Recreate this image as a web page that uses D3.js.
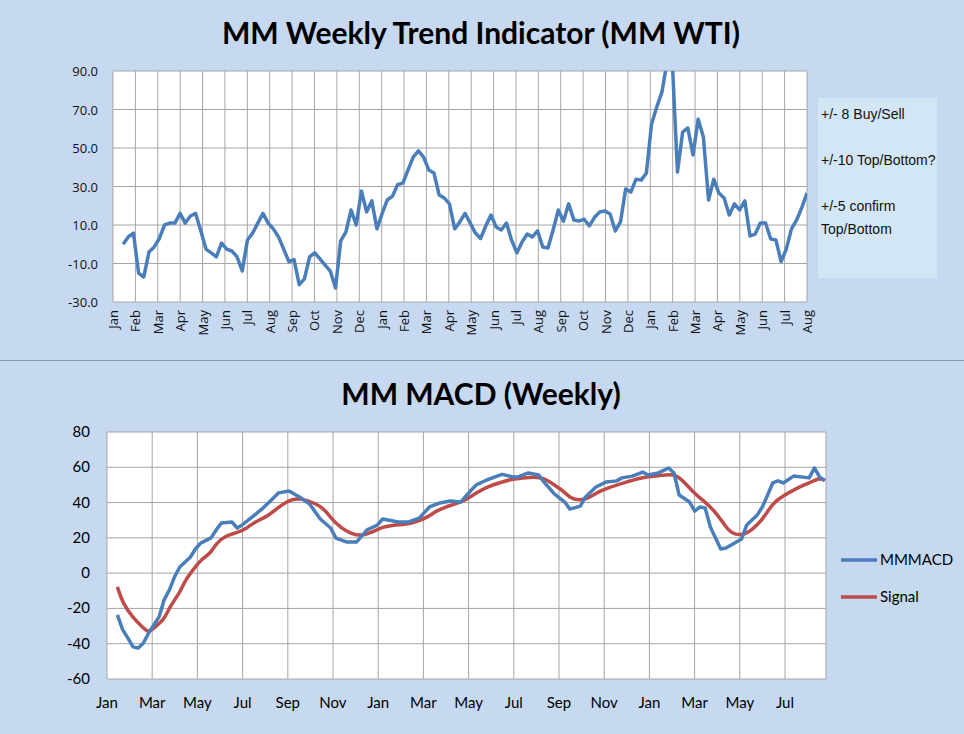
<!DOCTYPE html>
<html><head><meta charset="utf-8">
<script src="https://cdn.jsdelivr.net/npm/d3@7"></script>
<style>body{margin:0;background:#c6d9f1}svg{display:block}</style></head>
<body><svg id="c" width="964" height="734"></svg>
<script>
const monthsTop = ["Jan","Feb","Mar","Apr","May","Jun","Jul","Aug","Sep","Oct","Nov","Dec","Jan","Feb","Mar","Apr","May","Jun","Jul","Aug","Sep","Oct","Nov","Dec","Jan","Feb","Mar","Apr","May","Jun","Jul","Aug"];
const yTicksTop = [-30,-10,10,30,50,70,90];
const wti = [0,3.8,5.8,-15,-17,-4,-1.4,3,10,11,
11,16,11,14.7,16,7,-2.5,-4.5,-6.6,0.6,
-2.5,-3.5,-6.6,-13.9,2.2,5.8,11,16,11,8,
3.8,-2.5,-9,-8,-21,-18,-6.6,-4.5,-7.6,-10.8,
-14,-22.7,1.7,6.3,17.8,10,27.7,16.8,22.5,8,
16,23,25,31,31.8,38.6,45.3,48.5,45.3,38.6,
37,25.6,24,21,8,11.6,16,11,5.8,3,
9.5,15.2,9,7.4,11,2,-4.5,1.2,5.3,3.8,
6.9,-1.4,-2,7.4,17.8,12,21,12.6,12,13,
9.5,14,16.8,17.3,15.7,6.9,11.6,28.7,27.1,33.8,
33.3,37,62.5,71.3,79,95,95,37.5,58.3,60.4,
46.4,65,55.7,23,33.8,26.6,24,15.2,21,17.8,
22.5,4.3,5.3,11,11,2.7,2.2,-9,-2.5,8,
12.6,19,26.6];
const noteLines = ["+/- 8 Buy/Sell","+/-10 Top/Bottom?","+/-5 confirm","Top/Bottom"];

const monthsBottom = ["Jan","Mar","May","Jul","Sep","Nov","Jan","Mar","May","Jul","Sep","Nov","Jan","Mar","May","Jul"];
const yTicksBottom = [-60,-40,-20,0,20,40,60,80];
const macdWeeks = [2,3,4,5,6,7,8,10,11,12,13,14,16,17,18,20,21,22,24,25,26,28,30,32,33,35,37,39,41,43,44,46,48,50,52,53,54,56,58,60,61,62,64,66,68,70,71,73,75,76,78,79,81,83,84,86,88,89,91,92,94,96,98,99,101,103,104,106,108,109,110,112,113,114,115,116,118,119,121,122,123,125,126,128,129,130,132,135,136,137,138];
const macdVals = [-23.7,-32,-36.7,-41.8,-42.5,-39.6,-34,-24.8,-15,-9.5,-2,3.5,9,13.7,17,20,24.5,28.4,29,25.6,27.3,32,36.9,42.6,45.5,46.6,43.2,39,30.7,25.6,19.9,17.7,17.7,24.5,27.3,30.7,30.1,29,29,31.2,34.3,37.5,39.8,40.9,40.3,47,50,52.8,55,56,54.5,54.5,56.8,55.6,51.7,44.9,40.3,36.3,38,43.2,48.8,51.7,52.3,54,55,57.3,55.6,56.8,59.6,56.8,44.3,40.3,35.2,37.5,36.9,26.2,13.7,14.3,17.7,19.4,27.3,32.9,37.5,51.1,52.3,51.1,55,54,59.6,54.5,52.3];
const sigWeeks = [2,3,5,7,8,9,11,12,14,15,17,18,20,21,23,25,27,28,31,33,35,37,40,42,43,45,47,49,51,53,55,58,60,62,63,65,67,69,71,73,76,78,80,82,84,86,88,89,91,93,95,98,100,103,106,109,111,113,115,117,119,120,122,124,126,128,130,133,135,137,138];
const sigVals = [-7.8,-17,-25.4,-31,-33.9,-31,-26.5,-19.2,-11.3,-3.9,3.5,7.4,11.4,17,21.6,22.8,25.6,28.4,32.4,37.5,41.5,42.6,39.8,35.8,31.2,25.6,22.2,21.1,23.3,26.2,27.3,27.8,29.6,32.4,34.7,37.5,39.2,41.5,45.5,48.8,51.7,53.4,54,54.5,54,50,46,42.6,40.9,43.2,47,50,51.7,54.5,55,56.8,51.7,44.9,40.3,34.7,26.2,22.8,21.1,24.5,30.1,39.8,43.8,48.8,51.1,54,52.8];

const svg = d3.select("#c");
const FT = "Lato, 'Open Sans', sans-serif";
const gridC = "#a6a6a6";
svg.append("line").attr("x1",0).attr("x2",964).attr("y1",360.5).attr("y2",360.5).attr("stroke","#8a9bb0").attr("stroke-width",1);

// ---------- TOP ----------
const T = {l:113,r:807,t:71,b:302};
const xT = d3.scaleLinear().domain([0,31]).range([T.l,T.r]);
const yT = d3.scaleLinear().domain([-30,90]).range([T.b,T.t]);
svg.append("rect").attr("x",T.l).attr("y",T.t).attr("width",T.r-T.l).attr("height",T.b-T.t).attr("fill","#fff");
const gT = svg.append("g");
gT.selectAll(".hy").data(yTicksTop).join("line").attr("x1",T.l).attr("x2",T.r).attr("y1",d=>yT(d)).attr("y2",d=>yT(d)).attr("stroke",gridC);
gT.selectAll(".vx").data(d3.range(32)).join("line").attr("x1",d=>xT(d)).attr("x2",d=>xT(d)).attr("y1",T.t).attr("y2",T.b).attr("stroke",gridC);
gT.selectAll(".yl").data(yTicksTop).join("text").attr("x",T.l-15).attr("y",d=>yT(d)+5).attr("text-anchor","end").attr("font-family","'Open Sans',sans-serif").attr("font-size",13).attr("fill","#111").text(d=>d.toFixed(1));
gT.selectAll(".xl").data(monthsTop).join("text")
  .attr("transform",(d,i)=>`translate(${xT(i)+5},${T.b+8}) rotate(-90)`)
  .attr("text-anchor","end").attr("font-family","'Open Sans',sans-serif").attr("font-size",13).attr("fill","#111").text(d=>d);
svg.append("clipPath").attr("id","ct").append("rect").attr("x",T.l).attr("y",T.t).attr("width",T.r-T.l).attr("height",T.b-T.t);
const x0 = 0.45, step = (31-x0)/(wti.length-1);
svg.append("path").datum(wti).attr("clip-path","url(#ct)").attr("fill","none").attr("stroke","#4a7ebb").attr("stroke-width",3.5).attr("stroke-linejoin","round")
  .attr("d",d3.line().x((d,i)=>xT(x0+i*step)).y(d=>yT(d)));
svg.append("text").attr("x",481).attr("y",44).attr("text-anchor","middle").attr("font-family",FT).attr("font-weight","bold").attr("font-size",30).attr("fill","#000").text("MM Weekly Trend Indicator (MM WTI)");
svg.append("rect").attr("x",818).attr("y",98).attr("width",119).attr("height",180).attr("fill","#d3e6f6");
svg.selectAll(".note").data(noteLines).join("text").attr("x",821).attr("y",(d,i)=>[119,165,211,234][i])
  .attr("font-family","'Liberation Sans Narrow','Liberation Sans',sans-serif").attr("font-size",14).attr("fill","#111").text(d=>d);

// ---------- BOTTOM ----------
const B = {l:107,r:826,t:432,b:679};
const xB = d3.scaleLinear().domain([0,30]).range([B.l,785]);
const wk = w => w/4.345;
const yB = d3.scaleLinear().domain([-60,80]).range([B.b,B.t]);
svg.append("rect").attr("x",B.l).attr("y",B.t).attr("width",B.r-B.l).attr("height",B.b-B.t).attr("fill","#fff");
const gB = svg.append("g");
gB.selectAll(".hy").data(yTicksBottom).join("line").attr("x1",B.l).attr("x2",B.r).attr("y1",d=>yB(d)).attr("y2",d=>yB(d)).attr("stroke",gridC);
gB.selectAll(".vx").data(monthsBottom).join("line").attr("x1",(d,i)=>xB(i*2)).attr("x2",(d,i)=>xB(i*2)).attr("y1",B.t).attr("y2",B.b).attr("stroke",gridC);
gB.append("line").attr("x1",B.r).attr("x2",B.r).attr("y1",B.t).attr("y2",B.b).attr("stroke",gridC);
gB.selectAll(".yl").data(yTicksBottom).join("text").attr("x",B.l-17).attr("y",d=>yB(d)+5).attr("text-anchor","end").attr("font-family",FT).attr("font-size",15).attr("fill","#000").text(d=>d);
gB.selectAll(".xl").data(monthsBottom).join("text").attr("x",(d,i)=>xB(i*2)).attr("y",708).attr("text-anchor","middle").attr("font-family",FT).attr("font-size",15).attr("fill","#000").text(d=>d);
const sigData = sigWeeks.map((w,i)=>[w,sigVals[i]]);
const macdData = macdWeeks.map((w,i)=>[w,macdVals[i]]);
const lineB = d3.line().x(d=>xB(wk(d[0]))).y(d=>yB(d[1])).curve(d3.curveBasis);
svg.append("path").datum(sigData).attr("fill","none").attr("stroke","#be4b48").attr("stroke-width",3.5).attr("d",lineB);
svg.append("path").datum(macdData).attr("fill","none").attr("stroke","#4a7ebb").attr("stroke-width",3.5).attr("stroke-linejoin","round").attr("d",d3.line().x(d=>xB(wk(d[0]))).y(d=>yB(d[1])));
svg.append("text").attr("x",481).attr("y",405).attr("text-anchor","middle").attr("font-family",FT).attr("font-weight","bold").attr("font-size",30).attr("fill","#000").text("MM MACD (Weekly)");
const leg = [["MMMACD","#4a7ebb",560],["Signal","#be4b48",597]];
leg.forEach(([t,c,y])=>{
  svg.append("line").attr("x1",841).attr("x2",877).attr("y1",y).attr("y2",y).attr("stroke",c).attr("stroke-width",3.5);
  svg.append("text").attr("x",880).attr("y",y+5).attr("font-family",FT).attr("font-size",15).attr("fill","#000").text(t);
});
</script></body></html>
